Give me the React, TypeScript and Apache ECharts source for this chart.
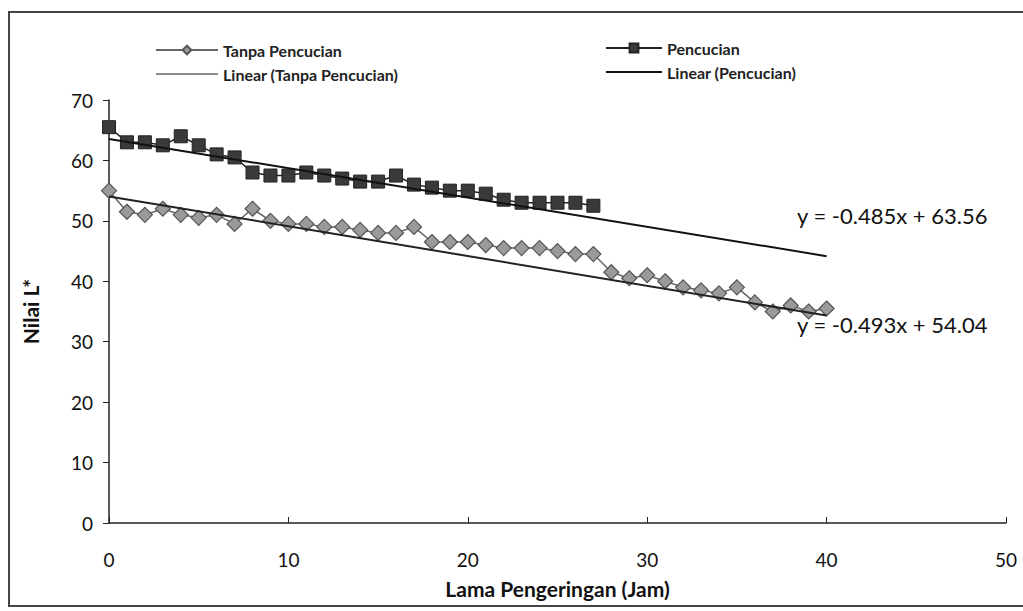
import React, { useEffect, useRef } from "react";
import * as echarts from "echarts";

const hoursPencucian = [0,1,2,3,4,5,6,7,8,9,10,11,12,13,14,15,16,17,18,19,20,21,22,23,24,25,26,27];
const pencucian = [65.5,63,63,62.5,64,62.5,61,60.5,58,57.5,57.5,58,57.5,57,56.5,56.5,57.5,56,55.5,55,55,54.5,53.5,53,53,53,53,52.5];

const hoursTanpa = [0,1,2,3,4,5,6,7,8,9,10,11,12,13,14,15,16,17,18,19,20,21,22,23,24,25,26,27,28,29,30,31,32,33,34,35,36,37,38,39,40];
const tanpaPencucian = [55,51.5,51,52,51,50.5,51,49.5,52,50,49.5,49.5,49,49,48.5,48,48,49,46.5,46.5,46.5,46,45.5,45.5,45.5,45,44.5,44.5,41.5,40.5,41,40,39,38.5,38,39,36.5,35,36,35,35.5];

// trendline coefficients as shown in the chart: [slope, intercept]
const trendPencucian = [-0.485, 63.56];
const trendTanpa = [-0.493, 54.04];
const trendRange = [0, 40];

const seriesNames = ["Tanpa Pencucian", "Pencucian", "Linear (Tanpa Pencucian)", "Linear (Pencucian)"];
const equationLabels = ["y = -0.485x + 63.56", "y = -0.493x + 54.04"];

const FONT = "Lato, 'Open Sans', sans-serif";
const LINE_ICON = "path://M0,0H60V2H0Z";

export default function App() {
  const ref = useRef<HTMLDivElement>(null);
  useEffect(() => {
    if (!ref.current) return;
    const chart = echarts.init(ref.current, undefined, { renderer: "svg" });
    const line = (c: number[]) => trendRange.map((x) => [x, c[0] * x + c[1]]);
    const legendText = { fontSize: 16, fontWeight: "bold", color: "#222", fontFamily: FONT };
    chart.setOption({
      animation: false,
      backgroundColor: "#fff",
      textStyle: { fontFamily: FONT },
      grid: { left: 109, right: 17, top: 100, bottom: 88 },
      legend: [
        {
          orient: "vertical",
          left: 150,
          top: 37,
          itemGap: 8,
          itemWidth: 62,
          itemHeight: 11,
          symbolKeepAspect: true,
          data: [
            { name: seriesNames[0] },
            { name: seriesNames[2], icon: LINE_ICON, itemStyle: { color: "#8a8a8a" } },
          ],
          textStyle: legendText,
        },
        {
          orient: "vertical",
          left: 600,
          top: 35,
          itemGap: 8,
          itemWidth: 56,
          itemHeight: 11,
          symbolKeepAspect: true,
          data: [
            { name: seriesNames[1] },
            { name: seriesNames[3], icon: LINE_ICON, itemStyle: { color: "#111" } },
          ],
          textStyle: legendText,
        },
      ],
      xAxis: {
        type: "value",
        min: 0,
        max: 50,
        interval: 10,
        name: "Lama Pengeringan (Jam)",
        nameLocation: "middle",
        nameGap: 55,
        nameTextStyle: { fontSize: 21, fontWeight: "bold", color: "#111", fontFamily: FONT },
        axisLine: { lineStyle: { color: "#222", width: 1.5 } },
        axisTick: { inside: true, length: 6, lineStyle: { color: "#222" } },
        axisLabel: { fontSize: 19, color: "#111", margin: 27, fontFamily: FONT },
        splitLine: { show: false },
      },
      yAxis: {
        type: "value",
        min: 0,
        max: 70,
        interval: 10,
        name: "Nilai L*",
        nameLocation: "middle",
        nameGap: 68,
        nameRotate: 90,
        nameTextStyle: { fontSize: 21, fontWeight: "bold", color: "#111", fontFamily: FONT },
        axisLine: { show: true, lineStyle: { color: "#222", width: 1.5 } },
        axisTick: { show: true, length: 6, lineStyle: { color: "#222" } },
        axisLabel: { fontSize: 19, color: "#111", margin: 16, fontFamily: FONT },
        splitLine: { show: false },
      },
      series: [
        {
          name: seriesNames[0],
          type: "line",
          data: hoursTanpa.map((h, i) => [h, tanpaPencucian[i]]),
          symbol: "diamond",
          symbolSize: 15,
          itemStyle: { color: "#9a9a9a", borderColor: "#555", borderWidth: 1.2 },
          lineStyle: { color: "#666", width: 1.5 },
          z: 3,
        },
        {
          name: seriesNames[1],
          type: "line",
          data: hoursPencucian.map((h, i) => [h, pencucian[i]]),
          symbol: "rect",
          symbolSize: 13,
          itemStyle: { color: "#3a3a3a", borderColor: "#222", borderWidth: 1 },
          lineStyle: { color: "#222", width: 1.5 },
          z: 3,
        },
        {
          name: seriesNames[2],
          type: "line",
          data: line(trendTanpa),
          symbol: "none",
          itemStyle: { color: "#8a8a8a" },
          lineStyle: { color: "#222", width: 2 },
          z: 4,
        },
        {
          name: seriesNames[3],
          type: "line",
          data: line(trendPencucian),
          symbol: "none",
          itemStyle: { color: "#111" },
          lineStyle: { color: "#111", width: 2 },
          z: 4,
        },
      ],
      graphic: [
        {
          type: "rect",
          shape: { x: 9, y: 12, width: 1030, height: 594 },
          style: { fill: "none", stroke: "#444", lineWidth: 2 },
          silent: true,
        },
        {
          type: "text",
          left: 797,
          top: 204,
          style: { text: equationLabels[0], fontSize: 22, fill: "#111", fontFamily: FONT },
        },
        {
          type: "text",
          left: 797,
          top: 313,
          style: { text: equationLabels[1], fontSize: 22, fill: "#111", fontFamily: FONT },
        },
      ],
    });
    return () => chart.dispose();
  }, []);
  return <div ref={ref} style={{ width: 1023, height: 611, position: "absolute", left: 0, top: 0 }} />;
}
